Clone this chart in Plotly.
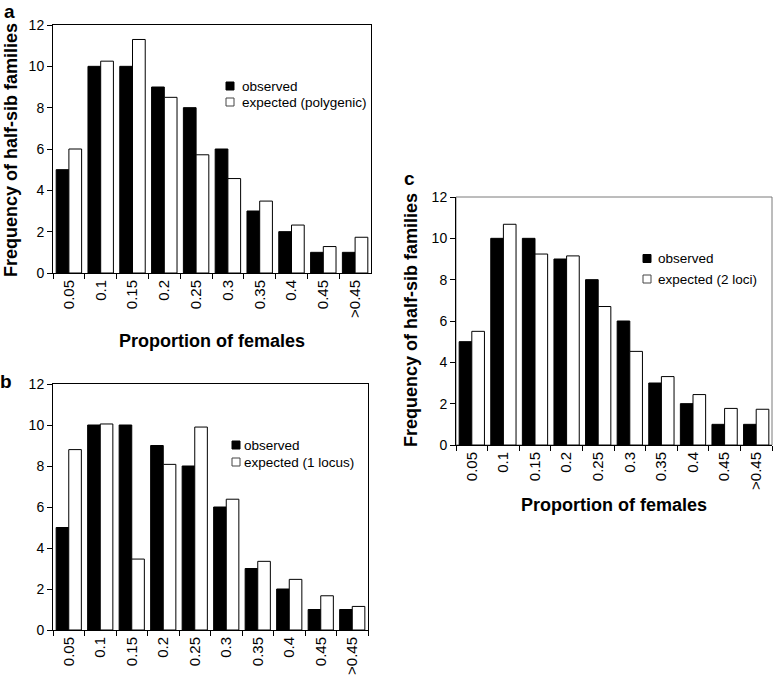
import plotly.graph_objects as go

# ---- data ----
categories = ["0.05", "0.1", "0.15", "0.2", "0.25", "0.3", "0.35", "0.4", "0.45", ">0.45"]
observed = [5, 10, 10, 9, 8, 6, 3, 2, 1, 1]
expected_polygenic = [6.0, 10.25, 11.3, 8.5, 5.72, 4.57, 3.48, 2.32, 1.28, 1.73]
expected_1locus = [8.8, 10.05, 3.46, 8.08, 9.9, 6.38, 3.35, 2.47, 1.67, 1.15]
expected_2loci = [5.5, 10.68, 9.24, 9.15, 6.7, 4.53, 3.31, 2.44, 1.77, 1.73]
y_ticks = [0, 2, 4, 6, 8, 10, 12]

panel_letters = ["a", "b", "c"]
expected_labels = ["expected (polygenic)", "expected (1 locus)", "expected (2 loci)"]
x_title = "Proportion of females"
y_title = "Frequency of half-sib families"

W, H = 775, 680
FONT = "Liberation Sans, Arial, Helvetica, sans-serif"


def PX(x):
    return x / W


def PY(y):
    return 1 - y / H


# pixel boxes (left, top, right, bottom) for each panel
boxes = {
    "": (53, 25, 371, 273),
    "2": (53, 384, 368, 630),
    "3": (456, 197, 772, 445),
}

fig = go.Figure()
series = [expected_polygenic, expected_1locus, expected_2loci]
for (sfx, box), exp_vals, exp_name in zip(boxes.items(), series, expected_labels):
    fig.add_trace(go.Bar(
        x=categories, y=observed, name="observed",
        marker=dict(color="black", line=dict(color="black", width=1)),
        xaxis="x" + sfx, yaxis="y" + sfx, showlegend=False,
    ))
    fig.add_trace(go.Bar(
        x=categories, y=exp_vals, name=exp_name,
        marker=dict(color="white", line=dict(color="black", width=1)),
        xaxis="x" + sfx, yaxis="y" + sfx, showlegend=False,
    ))

layout = dict(
    template="none",
    width=W, height=H,
    margin=dict(l=0, r=0, t=0, b=0, autoexpand=False),
    paper_bgcolor="white", plot_bgcolor="white",
    barmode="group", bargap=0.2, bargroupgap=0,
    font=dict(family=FONT, color="black", size=14),
    showlegend=False,
)

for sfx, (l, t, r, b) in boxes.items():
    mirror = sfx != "3"
    layout["xaxis" + sfx] = dict(
        domain=[PX(l), PX(r)], anchor="y" + sfx, automargin=False,
        type="category", range=[-0.5, 9.5],
        tickson="boundaries", ticks="outside", ticklen=5, tickcolor="black",
        showline=True, linecolor="black", linewidth=1, mirror=mirror,
        tickangle=-90, tickfont=dict(size=15, family=FONT, color="black"),
        showgrid=False, zeroline=False,
    )
    layout["yaxis" + sfx] = dict(
        domain=[PY(b), PY(t)], anchor="x" + sfx, automargin=False,
        range=[0, 12], tickvals=y_ticks,
        ticks="outside", ticklen=5, tickcolor="black",
        showline=True, linecolor="black", linewidth=1, mirror=mirror,
        tickfont=dict(size=14, family=FONT, color="black"),
        showgrid=False, zeroline=False,
    )

fig.update_layout(**layout)

shapes = []
annotations = []

# grey frame on panel c
l, t, r, b = boxes["3"]
shapes.append(dict(type="rect", xref="paper", yref="paper",
                   x0=PX(l), x1=PX(r), y0=PY(b), y1=PY(t),
                   line=dict(color="#7a7a7a", width=1), layer="below"))

# legends (pixel positions): square left, square right, text left, row1 y, row2 y
legend_pos = [
    (226, 234, 240, 86, 102),
    (232, 240, 242, 445, 462),
    (643, 651, 656, 258.5, 279),
]
for (x0, x1, xt, y1, y2), exp_name in zip(legend_pos, expected_labels):
    for yy, fill, edge, txt in [(y1, "black", "black", "observed"),
                                 (y2, "white", "#444444", exp_name)]:
        shapes.append(dict(type="rect", xref="paper", yref="paper",
                           x0=PX(x0), x1=PX(x1), y0=PY(yy + 4), y1=PY(yy - 4),
                           fillcolor=fill, line=dict(color=edge, width=1)))
        annotations.append(dict(xref="paper", yref="paper", x=PX(xt), y=PY(yy),
                                xanchor="left", yanchor="middle", showarrow=False,
                                text=txt, font=dict(size=13.5, family=FONT, color="black")))

# axis titles
annotations.append(dict(xref="paper", yref="paper", x=PX(212), y=PY(341),
                        xanchor="center", yanchor="middle", showarrow=False,
                        text="<b>%s</b>" % x_title, font=dict(size=18, family=FONT)))
annotations.append(dict(xref="paper", yref="paper", x=PX(614), y=PY(505),
                        xanchor="center", yanchor="middle", showarrow=False,
                        text="<b>%s</b>" % x_title, font=dict(size=18, family=FONT)))
annotations.append(dict(xref="paper", yref="paper", x=PX(11), y=PY(150),
                        xanchor="center", yanchor="middle", showarrow=False, textangle=-90,
                        text="<b>%s</b>" % y_title, font=dict(size=18, family=FONT)))
annotations.append(dict(xref="paper", yref="paper", x=PX(411), y=PY(320),
                        xanchor="center", yanchor="middle", showarrow=False, textangle=-90,
                        text="<b>%s</b>" % y_title, font=dict(size=18, family=FONT)))

# panel letters
for letter, (x, y) in zip(panel_letters, [(9, 11), (6, 381), (409, 179)]):
    annotations.append(dict(xref="paper", yref="paper", x=PX(x), y=PY(y),
                            xanchor="center", yanchor="middle", showarrow=False,
                            text="<b>%s</b>" % letter, font=dict(size=19, family=FONT)))

fig.update_layout(shapes=shapes, annotations=annotations)
fig.write_html("out.html", config={"displayModeBar": False},
               post_script="document.body.style.margin='0';document.body.style.padding='0';")
